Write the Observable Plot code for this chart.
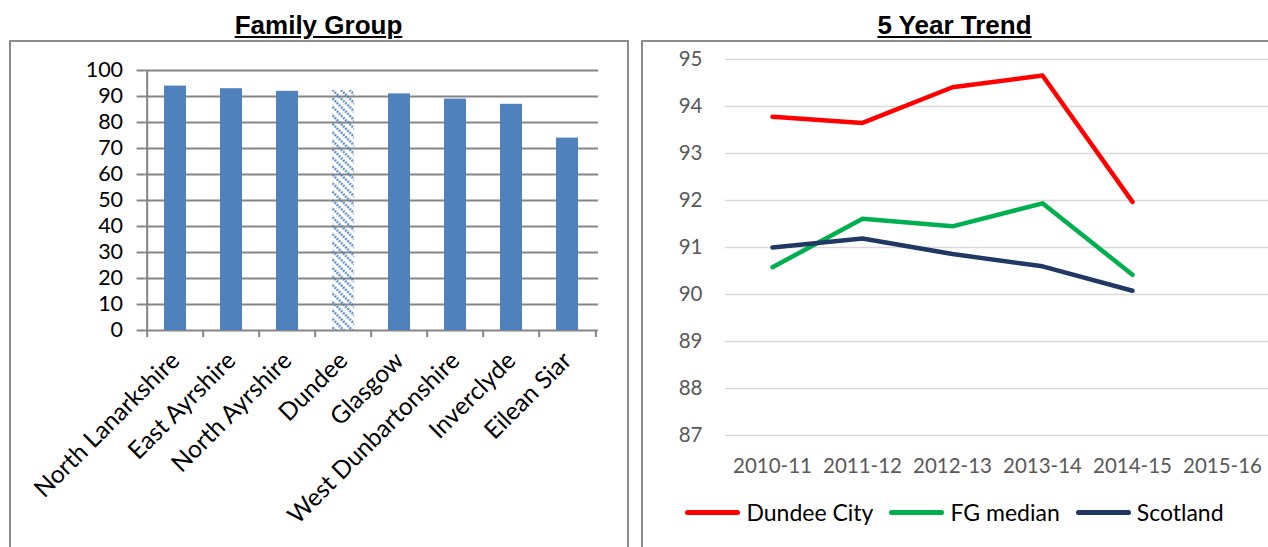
<!DOCTYPE html>
<html>
<head>
<meta charset="utf-8">
<script src="https://cdn.jsdelivr.net/npm/d3@7"></script>
<script src="https://cdn.jsdelivr.net/npm/@observablehq/plot@0.6"></script>
<style>
  html, body { margin: 0; padding: 0; background: #fff; }
  #root { position: relative; width: 1268px; height: 547px; overflow: hidden; font-family: Lato, "Open Sans", sans-serif; }
  .title { position: absolute; top: 10px; text-align: center; font-family: "Liberation Sans", Arial, sans-serif; font-weight: bold; font-size: 26px; line-height: 30px; text-decoration: underline; color: #000; }
  .box { position: absolute; top: 40px; border: 2px solid #8c8c8c; box-sizing: border-box; }
  .plot { position: absolute; top: 40px; }
  #legend { position: absolute; top: 498px; left: 641px; width: 627px; display: flex; justify-content: center; align-items: center; font-family: Lato, sans-serif; font-size: 23px; color: #000; }
  .item { display: flex; align-items: center; margin: 0 8px; }
  .swatch { width: 55px; height: 5px; border-radius: 3px; margin-right: 6px; }
</style>
</head>
<body>
<div id="root">
  <div class="title" style="left:9px;width:619px;">Family Group</div>
  <div class="box" style="left:9px;width:620px;height:530px;"></div>
  <div class="title" style="left:641px;width:627px;">5 Year Trend</div>
  <div class="box" style="left:641px;width:660px;height:530px;"></div>
  <div id="left" class="plot" style="left:9px;"></div>
  <div id="right" class="plot" style="left:641px;"></div>
  <div id="legend"></div>
</div>
<script>
// ---- Left chart data ----
const categories = ["North Lanarkshire", "East Ayrshire", "North Ayrshire", "Dundee", "Glasgow", "West Dunbartonshire", "Inverclyde", "Eilean Siar"];
const values = [94, 93, 92, 92.3, 91, 89, 87, 74];
const highlight = "Dundee";
const barTicks = [0, 10, 20, 30, 40, 50, 60, 70, 80, 90, 100];

// ---- Right chart data ----
const years = ["2010-11", "2011-12", "2012-13", "2013-14", "2014-15", "2015-16"];
const dundeeCity = [93.78, 93.65, 94.41, 94.66, 91.97];
const fgMedian = [90.58, 91.61, 91.45, 91.94, 90.42];
const scotland = [91.0, 91.19, 90.86, 90.6, 90.08];
const seriesNames = ["Dundee City", "FG median", "Scotland"];
const seriesColors = ["#FF0000", "#00B050", "#1F3864"];
const trendTicks = [87, 88, 89, 90, 91, 92, 93, 94, 95];

// ---- Left: bar chart ----
const bars = categories.map((c, i) => ({name: c, value: values[i]}));
const LW = 619, LH = 507, LML = 135.6, LMR = 30;
const step = (LW - LML - LMR) / categories.length;
const grid = "#868686";

const left = Plot.plot({
  width: LW, height: LH,
  marginLeft: LML, marginRight: LMR, marginTop: 30, marginBottom: 217,
  style: {fontFamily: "Lato, sans-serif", background: "transparent", overflow: "visible"},
  x: {type: "band", domain: categories, paddingInner: 0.61, paddingOuter: 0.305, label: null},
  y: {domain: [0, 100], label: null},
  marks: [
    Plot.ruleY(barTicks, {stroke: grid, strokeWidth: 2}),
    Plot.ruleX([categories[0]], {dx: -step / 2, y1: 0, y2: 100, stroke: grid, strokeWidth: 2}),
    Plot.ruleX(categories, {dx: -step / 2, y1: 0, y2: -2.7, stroke: grid, strokeWidth: 2}),
    Plot.ruleX([categories[categories.length - 1]], {dx: step / 2, y1: 0, y2: -2.7, stroke: grid, strokeWidth: 2}),
    Plot.axisY({ticks: barTicks, tickSize: 8, tickPadding: 14, stroke: grid, strokeWidth: 2, fill: "#000", fontSize: 21.5, tickFormat: d => String(d)}),
    Plot.barY(bars.filter(d => d.name !== highlight), {x: "name", y: "value", fill: "#4F81BD"}),
    Plot.barY(bars.filter(d => d.name === highlight), {x: "name", y: "value", fill: "url(#hatch)"}),
    Plot.axisX({tickSize: 0, tickPadding: 26, tickRotate: -45, fill: "#000", fontSize: 24.5})
  ]
});
const defs = d3.create("svg:defs");
const pat = defs.append("pattern").attr("id", "hatch").attr("patternUnits", "userSpaceOnUse")
  .attr("width", 6).attr("height", 6).attr("patternTransform", "rotate(-45)");
pat.append("line").attr("x1", 1.5).attr("y1", 0).attr("x2", 1.5).attr("y2", 6)
  .attr("stroke", "#4F81BD").attr("stroke-width", 2.2).attr("stroke-dasharray", "2 1");
left.insertBefore(defs.node(), left.firstChild);
document.getElementById("left").appendChild(left);

// ---- Right: line chart ----
const allSeries = [dundeeCity, fgMedian, scotland];
const rows = [];
allSeries.forEach((vals, s) => vals.forEach((v, i) => rows.push({series: seriesNames[s], year: years[i], value: v})));

const right = Plot.plot({
  width: 627, height: 440,
  marginLeft: 84, marginRight: 0, marginTop: 19, marginBottom: 45,
  style: {fontFamily: "Lato, sans-serif", background: "transparent", overflow: "visible"},
  x: {type: "point", domain: years, padding: 0.5, label: null},
  y: {domain: [87, 95], label: null},
  color: {domain: seriesNames, range: seriesColors},
  marks: [
    Plot.ruleY(trendTicks, {stroke: "#D9D9D9", strokeWidth: 1.5}),
    Plot.axisY({ticks: trendTicks, tickSize: 0, tickPadding: 23, fill: "#595959", fontSize: 20.5}),
    Plot.axisX({tickSize: 0, tickPadding: 23, fill: "#595959", fontSize: 20.5}),
    Plot.lineY(rows, {x: "year", y: "value", z: "series", stroke: "series", strokeWidth: 4.5, strokeLinecap: "round", strokeLinejoin: "round"})
  ]
});
document.getElementById("right").appendChild(right);

// ---- Legend ----
const legend = document.getElementById("legend");
seriesNames.forEach((name, i) => {
  const item = document.createElement("div");
  item.className = "item";
  const sw = document.createElement("div");
  sw.className = "swatch";
  sw.style.background = seriesColors[i];
  const label = document.createElement("span");
  label.textContent = name;
  item.appendChild(sw);
  item.appendChild(label);
  legend.appendChild(item);
});
</script>
</body>
</html>
